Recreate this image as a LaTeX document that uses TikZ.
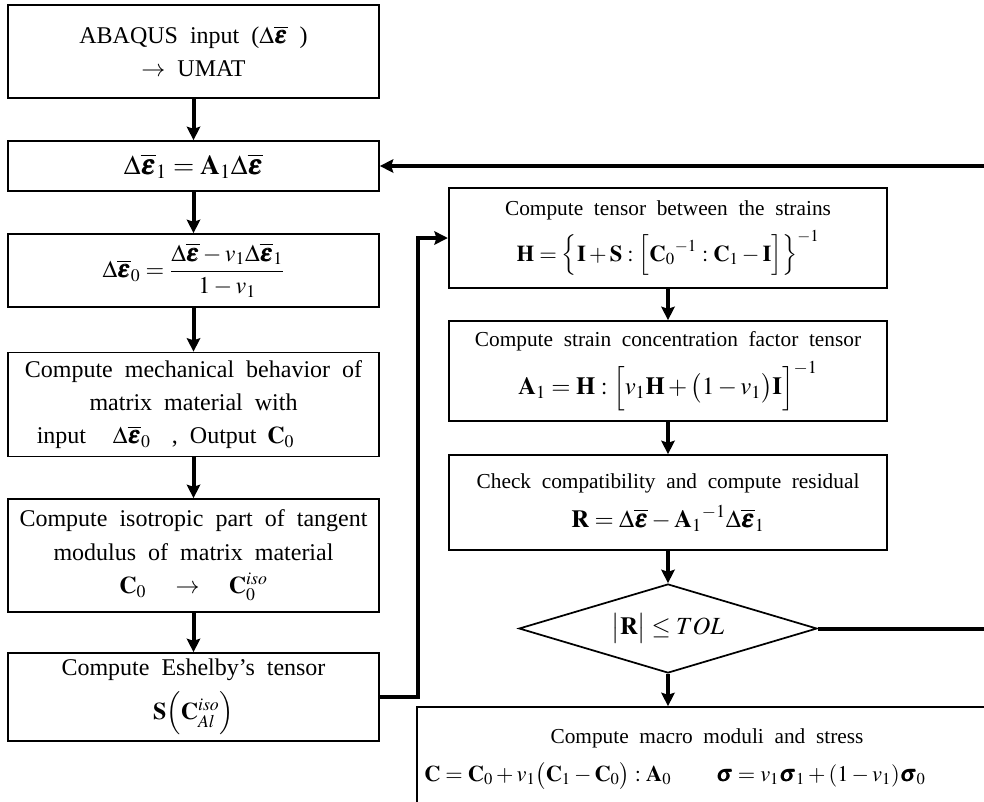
\documentclass[tikz,border=0pt]{standalone}
\usepackage{amsmath,amssymb}
\usepackage{mathptmx}
\usepackage{bm}
\usepackage[no-math]{fontspec}
\setmainfont{Liberation Serif}[WordSpace=2]
\usepackage{tikz}
\usetikzlibrary{shapes.geometric,arrows.meta,positioning,calc}

\newcommand{\dEps}{\Delta\overline{\bm{\varepsilon}}}
\newcommand{\bigmath}[1]{{\fontsize{18.5}{22}\selectfont #1}}

\begin{document}
\begin{tikzpicture}[x=0.75pt, y=-0.75pt,
  every node/.style={font=\fontsize{18}{25}\selectfont},
  procbox/.style={draw, line width=1.3pt, align=center, inner sep=2pt,
    minimum width=278.25pt},
  rightbox/.style={procbox, font=\fontsize{16}{22}\selectfont,
    minimum width=329pt, minimum height=75pt},
  decbox/.style={draw, line width=1.3pt, diamond, aspect=3.3, inner sep=0pt,
    font=\fontsize{18.5}{22}\selectfont,
    minimum width=223.5pt, minimum height=66.75pt},
  flow/.style={-{Stealth[length=10pt, width=10pt, inset=1.5pt]}, line width=3pt}]
  \useasboundingbox (0,0) rectangle (984,801);
  \clip (0,0) rectangle (984,801);
  % Left column
  \node[procbox, minimum height=69.75pt] (input) at (193.5,51.5)
    {ABAQUS input ($\dEps$ )\\ $\rightarrow$ UMAT};
  \node[procbox, minimum height=37.5pt] (strainA) at (193.5,166)
    {{\fontsize{20.5}{24}\selectfont $\dEps_1 = \mathbf{A}_1\dEps$}};
  \node[procbox, minimum height=54.75pt] (strainM) at (193.5,270.5)
    {$\dEps_0 = \dfrac{\dEps - v_1\dEps_1}{1-v_1}$};
  \node[procbox, minimum height=78pt] (matrix) at (193.5,404.5)
    {Compute mechanical behavior of\\ matrix material with\\
     input\hspace{20pt}$\dEps_0$\hspace{16pt}, Output\hspace{8pt}$\mathbf{C}_0$\hspace*{42pt}};
  \node[procbox, minimum height=84.75pt] (iso) at (193.5,555.5)
    {Compute isotropic part of tangent\\ modulus of matrix material\\
     $\mathbf{C}_0 \quad\rightarrow\quad \mathbf{C}_0^{iso}$};
  \node[procbox, minimum height=66pt] (eshelby) at (193.5,697)
    {Compute Eshelby’s tensor\\[8pt] $\mathbf{S}\Big(\mathbf{C}_{Al}^{iso}\Big)$};
  % Right column
  \node[rightbox] (tensorH) at (668,238)
    {Compute tensor between the strains\\[7pt]
     {\fontsize{17}{20}\selectfont $\mathbf{H} = \Big\{\mathbf{I} + \mathbf{S} : \Big[{\mathbf{C}_0}^{-1} : \mathbf{C}_1 - \mathbf{I}\Big]\Big\}^{-1}$}};
  \node[rightbox] (conc) at (668,371)
    {Compute strain concentration factor tensor\\[7pt]
     \bigmath{$\mathbf{A}_1 = \mathbf{H} : \Big[v_1\mathbf{H} + \big(1-v_1\big)\mathbf{I}\Big]^{-1}$}};
  \node[rightbox, minimum height=71.25pt] (resid) at (668,502.5)
    {Check compatibility and compute residual\\[7pt]
     \bigmath{$\mathbf{R} = \dEps - {\mathbf{A}_1}^{-1}\dEps_1$}};
  \node[decbox] (check) at (668,628.5) {$\big|\mathbf{R}\big| \le TOL$};
  \node[rightbox, minimum width=435pt, minimum height=78pt] (macro) at (707,759)
    {Compute macro moduli and stress\\[6pt]
     \hspace*{-48pt}{\fontsize{16.8}{20}\selectfont
     $\mathbf{C} = \mathbf{C}_0 + v_1\big(\mathbf{C}_1 - \mathbf{C}_0\big) : \mathbf{A}_0
      \quad\ \ \bm{\sigma} = v_1\bm{\sigma}_1 + (1-v_1)\bm{\sigma}_0$}};
  % Arrows down the left column
  \draw[flow] (input) -- (strainA);
  \draw[flow] (strainA) -- (strainM);
  \draw[flow] (strainM) -- (matrix);
  \draw[flow] (matrix) -- (iso);
  \draw[flow] (iso) -- (eshelby);
  % Over to the right column
  \draw[flow] (eshelby.east) -- ++(38,0) |- (tensorH.west);
  \draw[flow] (tensorH) -- (conc);
  \draw[flow] (conc) -- (resid);
  \draw[flow] (resid) -- (check);
  \draw[flow] (check) -- (check |- macro.north);
  % Feedback loop
  \coordinate (loop) at (992,0);
  \draw[flow] (check.east) -- (check.east -| loop) |- (strainA.east);
\end{tikzpicture}
\end{document}
